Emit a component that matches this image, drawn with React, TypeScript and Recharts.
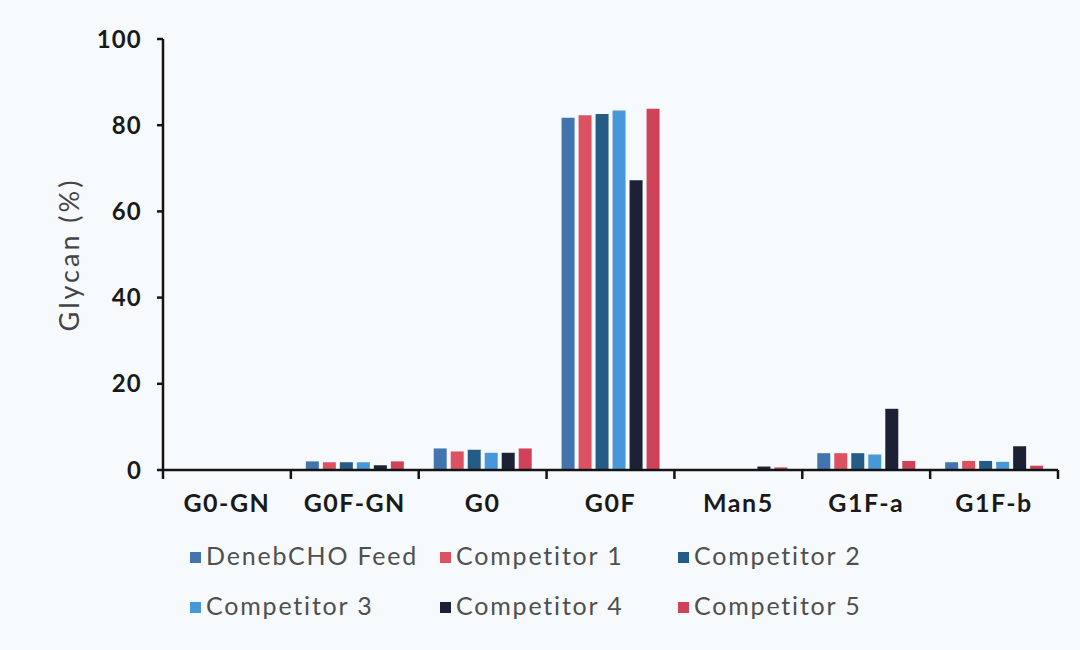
import React from 'react';
import { BarChart, Bar, XAxis, YAxis, Legend } from 'recharts';

const categories = ['G0-GN', 'G0F-GN', 'G0', 'G0F', 'Man5', 'G1F-a', 'G1F-b'];
const denebFeed = [0, 2.0, 5.0, 81.7, 0, 3.9, 1.8];
const competitor1 = [0, 1.8, 4.3, 82.3, 0, 3.9, 2.1];
const competitor2 = [0, 1.8, 4.7, 82.6, 0, 3.9, 2.1];
const competitor3 = [0, 1.8, 4.0, 83.4, 0, 3.6, 1.9];
const competitor4 = [0, 1.1, 4.0, 67.2, 0.8, 14.2, 5.5];
const competitor5 = [0, 2.0, 5.0, 83.8, 0.6, 2.1, 1.0];
const yTicks = [0, 20, 40, 60, 80, 100];

const seriesNames = ['DenebCHO Feed', 'Competitor 1', 'Competitor 2', 'Competitor 3', 'Competitor 4', 'Competitor 5'];
const seriesValues = [denebFeed, competitor1, competitor2, competitor3, competitor4, competitor5];
const seriesColors = ['#4474ae', '#dc5263', '#255b87', '#4897d8', '#1d2135', '#cf4259'];

const data = categories.map((c, i) => {
  const row: Record<string, string | number> = { name: c };
  seriesNames.forEach((s, k) => {
    row[s] = seriesValues[k][i];
  });
  return row;
});

const FONT = 'Lato, "Open Sans", sans-serif';
const AXIS = '#141414';

const XTick = (props: any) => {
  const { x, y, payload, index, visibleTicksCount } = props;
  const off = payload && payload.offset ? payload.offset : 0;
  return (
    <g>
      <line x1={x - off} x2={x - off} y1={y} y2={y + 9} stroke={AXIS} strokeWidth={2.5} />
      {index === visibleTicksCount - 1 && (
        <line x1={x + off} x2={x + off} y1={y} y2={y + 9} stroke={AXIS} strokeWidth={2.5} />
      )}
      <text
        x={x}
        y={y + 42}
        textAnchor="middle"
        fontFamily={FONT}
        fontWeight={700}
        fontSize={25}
        letterSpacing={1.5}
        fill="#1a1a1a"
      >
        {payload.value}
      </text>
    </g>
  );
};

const LegendContent = () => {
  const cols = [190, 440, 678];
  return (
    <div style={{ position: 'relative', width: 1080, height: 110 }}>
      {seriesNames.map((s, i) => {
        const col = i % 3;
        const row = Math.floor(i / 3);
        return (
          <div
            key={s}
            style={{
              position: 'absolute',
              left: cols[col],
              top: row * 50,
              height: 50,
              display: 'flex',
              alignItems: 'center',
              fontFamily: FONT,
              fontSize: 25,
              letterSpacing: 1.8,
              color: '#4f4f4f',
              whiteSpace: 'nowrap',
            }}
          >
            <span
              style={{
                display: 'inline-block',
                width: 11,
                height: 11,
                background: seriesColors[i],
                marginRight: 5,
                marginTop: 4,
              }}
            />
            {s}
          </div>
        );
      })}
    </div>
  );
};

const YLabel = (props: any) => {
  const vb = props.viewBox || { x: 0, y: 0, width: 0, height: 0 };
  const cx = vb.x + 68;
  const cy = vb.y + vb.height / 2;
  return (
    <text
      x={cx}
      y={cy}
      transform={`rotate(-90 ${cx} ${cy})`}
      textAnchor="middle"
      dominantBaseline="central"
      fontFamily={FONT}
      fontSize={27}
      letterSpacing={3}
      fill="#444"
    >
      Glycan (%)
    </text>
  );
};

export default function App() {
  return (
    <div
      style={{
        position: 'absolute',
        left: 0,
        top: 0,
        width: 1080,
        height: 650,
        background: '#f7fafd',
      }}
    >
      <BarChart
        width={1080}
        height={650}
        data={data}
        margin={{ top: 39, right: 22, bottom: 120, left: 0 }}
        barSize={13}
        barGap={4}
      >
        <XAxis
          dataKey="name"
          type="category"
          interval={0}
          height={60}
          tickSize={0}
          tickMargin={0}
          tickLine={false}
          axisLine={{ stroke: AXIS, strokeWidth: 2.5 }}
          tick={<XTick />}
        />
        <YAxis
          type="number"
          domain={[0, 100]}
          ticks={yTicks}
          width={163}
          tickSize={6}
          tickMargin={15}
          axisLine={{ stroke: AXIS, strokeWidth: 2.5 }}
          tickLine={{ stroke: AXIS, strokeWidth: 2.5 }}
          tick={{ fontFamily: FONT, fontWeight: 700, fontSize: 24, fill: '#1a1a1a', letterSpacing: 1.2 } as any}
          label={<YLabel />}
        />
        <Legend
          layout="horizontal"
          verticalAlign="middle"
          align="center"
          wrapperStyle={{ left: 0, top: 530, width: 1080, height: 110 }}
          content={<LegendContent />}
        />
        {seriesNames.map((s, i) => (
          <Bar key={s} dataKey={s} fill={seriesColors[i]} isAnimationActive={false} />
        ))}
      </BarChart>
    </div>
  );
}
